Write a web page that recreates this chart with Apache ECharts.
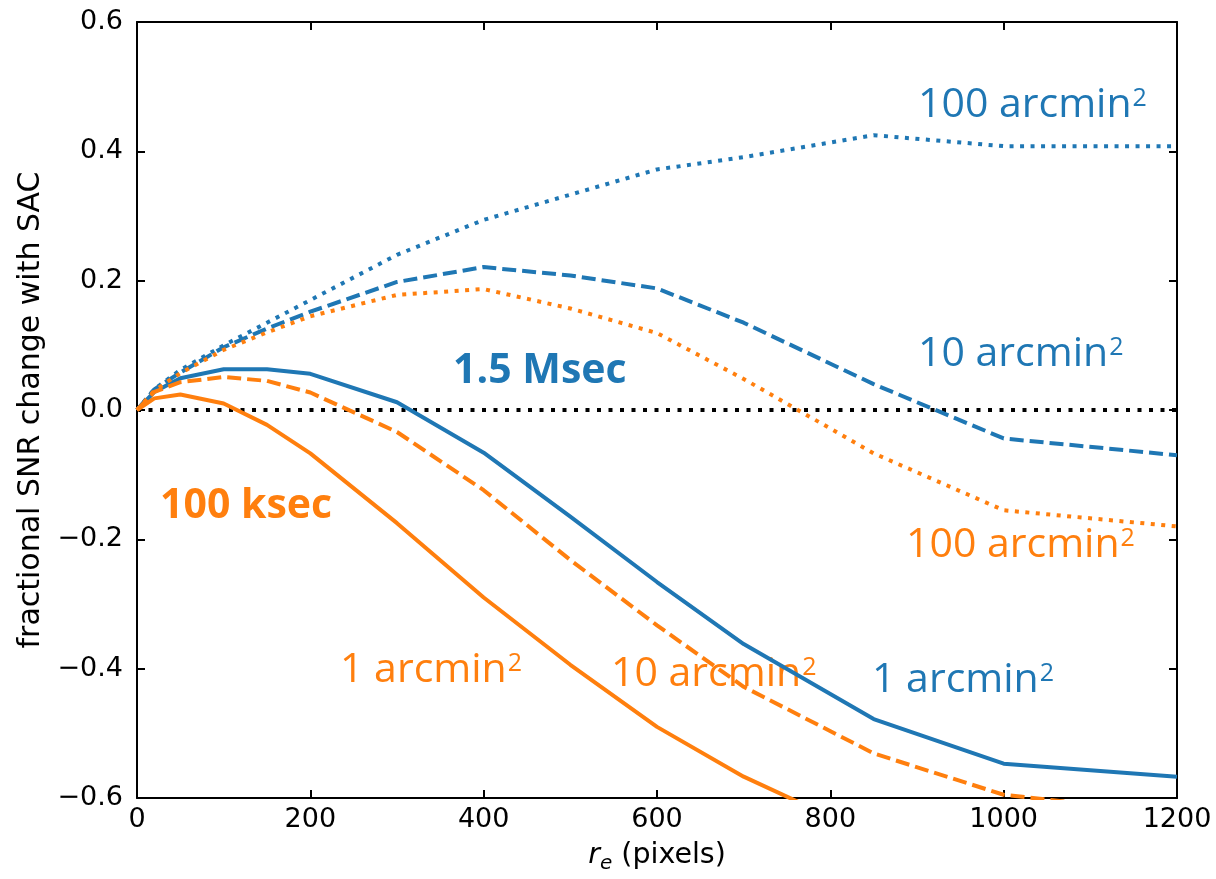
<!DOCTYPE html>
<html>
<head>
<meta charset="utf-8">
<script src="https://cdn.jsdelivr.net/npm/echarts@6/dist/echarts.min.js"></script>
<style>html,body{margin:0;padding:0;background:#fff;}#c{width:1216px;height:879px;}</style>
</head>
<body>
<div id="c"></div>
<script>
// r_e (pixels)
const xs = [0, 20, 50, 100, 150, 200, 300, 400, 500, 600, 700, 850, 1000, 1200];
// 1.5 Msec
const msec1 = [0, 0.028, 0.049, 0.063, 0.063, 0.056, 0.012, -0.066, -0.165, -0.266, -0.362, -0.478, -0.547, -0.567];
const msec10 = [0, 0.032, 0.058, 0.097, 0.126, 0.152, 0.198, 0.221, 0.208, 0.188, 0.135, 0.040, -0.044, -0.070];
const msec100 = [0, 0.032, 0.062, 0.100, 0.135, 0.170, 0.240, 0.294, 0.333, 0.372, 0.391, 0.425, 0.408, 0.408];
// 100 ksec
const ksec1 = [0, 0.018, 0.024, 0.010, -0.023, -0.067, -0.175, -0.290, -0.394, -0.490, -0.567, -0.660, -0.720, -0.760];
const ksec10 = [0, 0.028, 0.043, 0.051, 0.045, 0.027, -0.034, -0.124, -0.232, -0.333, -0.428, -0.531, -0.595, -0.625];
const ksec100 = [0, 0.030, 0.057, 0.093, 0.120, 0.145, 0.178, 0.187, 0.157, 0.119, 0.048, -0.067, -0.155, -0.180];
const zeroLine = [[0, 0], [1200, 0]];

const BLUE = '#1f77b4', ORANGE = '#ff7f0e';
const pair = arr => xs.map((x, i) => [x, arr[i]]);
const fmtY = v => (v < 0 ? '\u2212' : '') + Math.abs(v).toFixed(1);
const fmtX = v => String(Math.round(v));

const chart = echarts.init(document.getElementById('c'), null, {renderer: 'canvas'});
const axisCommon = {
  axisLine: {show: true, onZero: false, lineStyle: {color: '#000', width: 2}},
  axisTick: {show: true, inside: true, length: 8, lineStyle: {color: '#000', width: 2}},
  splitLine: {show: false}
};
function line(name, data, color, type) {
  let dash = 'solid';
  if (type === 'dashed') dash = [14, 6];
  if (type === 'dotted') dash = [4, 6.5];
  return {
    name, type: 'line', data: pair(data), showSymbol: false, symbol: 'none',
    clip: true, animation: false,
    lineStyle: {color, width: 4, type: dash, cap: 'butt', join: 'round'}
  };
}
function sup(main, color, x, y) {
  return {
    type: 'text', left: x, top: y,
    style: {
      rich: {
        m: {fontFamily: 'Open Sans', fontSize: 41, fill: color, lineHeight: 50, verticalAlign: 'bottom'},
        s: {fontFamily: 'Open Sans', fontSize: 25, fill: color, verticalAlign: 'top', padding: [10, 0, 0, 1]}
      },
      text: '{m|' + main + '}{s|2}'
    }
  };
}
const option = {
  animation: false,
  grid: {left: 137, right: 39, top: 22, bottom: 81, containLabel: false},
  xAxis: [
    Object.assign({}, axisCommon, {
      type: 'value', min: 0, max: 1200, interval: 200, position: 'bottom',
      axisLabel: {color: '#000', fontFamily: 'DejaVu Sans', fontSize: 27, margin: 8, formatter: fmtX},
      name: '{i|r}{sub|e}{n| (pixels)}', nameLocation: 'middle', nameGap: 40,
      nameTextStyle: {
        rich: {
          i: {fontFamily: 'DejaVu Sans', fontStyle: 'italic', fontSize: 28.5, color: '#000', lineHeight: 36},
          sub: {fontFamily: 'DejaVu Sans', fontStyle: 'italic', fontSize: 20, color: '#000', lineHeight: 21, verticalAlign: 'bottom'},
          n: {fontFamily: 'DejaVu Sans', fontSize: 28.5, color: '#000', lineHeight: 36}
        }
      }
    }),
    Object.assign({}, axisCommon, {
      type: 'value', min: 0, max: 1200, interval: 200, position: 'top',
      axisLabel: {show: false}
    })
  ],
  yAxis: [
    Object.assign({}, axisCommon, {
      type: 'value', min: -0.6, max: 0.6, interval: 0.2, position: 'left',
      axisLabel: {color: '#000', fontFamily: 'DejaVu Sans', fontSize: 27, margin: 14, formatter: fmtY},
      name: 'fractional SNR change with SAC', nameLocation: 'middle', nameGap: 91,
      nameTextStyle: {fontFamily: 'DejaVu Sans', fontSize: 30, color: '#000'}
    }),
    Object.assign({}, axisCommon, {
      type: 'value', min: -0.6, max: 0.6, interval: 0.2, position: 'right',
      axisLabel: {show: false}
    })
  ],
  series: [
    {
      name: 'zero', type: 'line', data: zeroLine, showSymbol: false, symbol: 'none', animation: false,
      lineStyle: {color: '#000', width: 4, type: [4, 7.5], cap: 'butt'}, z: 1
    },
    line('1.5 Msec 1 arcmin2', msec1, BLUE, 'solid'),
    line('1.5 Msec 10 arcmin2', msec10, BLUE, 'dashed'),
    line('1.5 Msec 100 arcmin2', msec100, BLUE, 'dotted'),
    line('100 ksec 1 arcmin2', ksec1, ORANGE, 'solid'),
    line('100 ksec 10 arcmin2', ksec10, ORANGE, 'dashed'),
    line('100 ksec 100 arcmin2', ksec100, ORANGE, 'dotted')
  ],
  graphic: [
    sup('100 arcmin', BLUE, 918, 85),
    sup('10 arcmin', BLUE, 918, 334),
    sup('100 arcmin', ORANGE, 906, 525),
    sup('1 arcmin', ORANGE, 340, 650),
    sup('10 arcmin', ORANGE, 611, 654),
    sup('1 arcmin', BLUE, 872, 660),
    {type: 'text', left: 453, top: 351, style: {text: '1.5 Msec', fontFamily: 'Open Sans', fontWeight: 'bold', fontSize: 41, fill: BLUE}},
    {type: 'text', left: 160, top: 486, style: {text: '100 ksec', fontFamily: 'Open Sans', fontWeight: 'bold', fontSize: 41, fill: ORANGE}}
  ]
};
chart.setOption(option);
</script>
</body>
</html>
